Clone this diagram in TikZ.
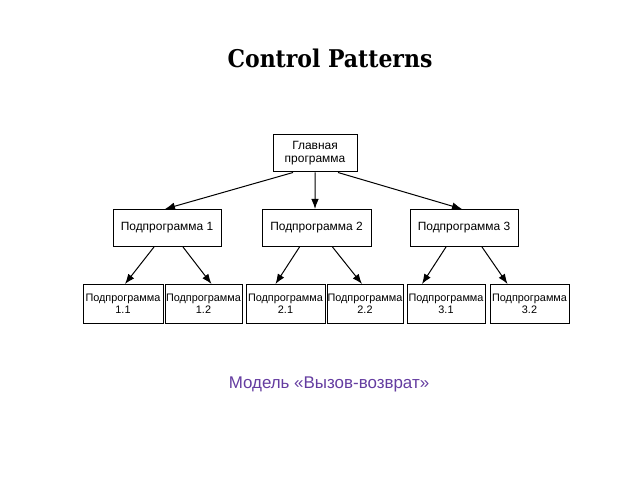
\documentclass[tikz,border=0pt]{standalone}
\usepackage{fontspec}
\setmainfont{Liberation Serif}
\newfontfamily\arialf{Liberation Sans}
\newfontfamily\titlef{DejaVu Serif Condensed}
\usetikzlibrary{arrows.meta}
\definecolor{capcol}{RGB}{100,60,160}
\tikzset{
  box/.style={draw=black, line width=1bp, fill=white, minimum height=37bp, inner sep=0pt, align=center, font=\arialf\fontsize{12}{13}\selectfont},
  sbox/.style={box, minimum height=39bp, font=\arialf\fontsize{10.9}{12.5}\selectfont},
  arr/.style={draw=black, line width=1bp, -{Latex[length=10bp,width=7.5bp]}}
}
\begin{document}
\begin{tikzpicture}[x=1bp,y=-1bp]
\useasboundingbox (0,0) rectangle (640,480);
\node[font=\titlef\bfseries\fontsize{24.5}{28}\selectfont] (title) at (330,58) {Control Patterns};
\node[box, minimum width=84bp] (main) at (315,153.5) {Главная\\программа};
\node[box, minimum width=108bp] (b1) at (167,228) {Подпрограмма 1};
\node[box, minimum width=109bp] (b2) at (316.5,228) {Подпрограмма 2};
\node[box, minimum width=108bp] (b3) at (464,228) {Подпрограмма 3};
\node[sbox, minimum width=80bp] (c11) at (123,304) {Подпрограмма\\1.1};
\node[sbox, minimum width=77bp] (c12) at (203.5,304) {Подпрограмма\\1.2};
\node[sbox, minimum width=79bp] (c21) at (285.5,304) {Подпрограмма\\2.1};
\node[sbox, minimum width=76bp] (c22) at (365,304) {Подпрограмма\\2.2};
\node[sbox, minimum width=78bp] (c31) at (446,304) {Подпрограмма\\3.1};
\node[sbox, minimum width=79bp] (c32) at (529.5,304) {Подпрограмма\\3.2};
\draw[arr] ([xshift=-22bp]main.south) -- ([xshift=-2bp]b1.north);
\draw[arr] ([xshift=0bp]main.south) -- ([xshift=-1.5bp]b2.north);
\draw[arr] ([xshift=23bp]main.south) -- ([xshift=-2bp]b3.north);
\draw[arr] ([xshift=-13bp]b1.south) -- ([xshift=2bp]c11.north);
\draw[arr] ([xshift=16bp]b1.south) -- ([xshift=8bp]c12.north);
\draw[arr] ([xshift=-17bp]b2.south) -- ([xshift=-10bp]c21.north);
\draw[arr] ([xshift=16bp]b2.south) -- ([xshift=-3bp]c22.north);
\draw[arr] ([xshift=-18bp]b3.south) -- ([xshift=-24bp]c31.north);
\draw[arr] ([xshift=18bp]b3.south) -- ([xshift=-22bp]c32.north);
\node[font=\arialf\fontsize{17}{20}\selectfont, text=capcol] (cap) at (329,384) {Модель «Вызов-возврат»};
\end{tikzpicture}
\end{document}
